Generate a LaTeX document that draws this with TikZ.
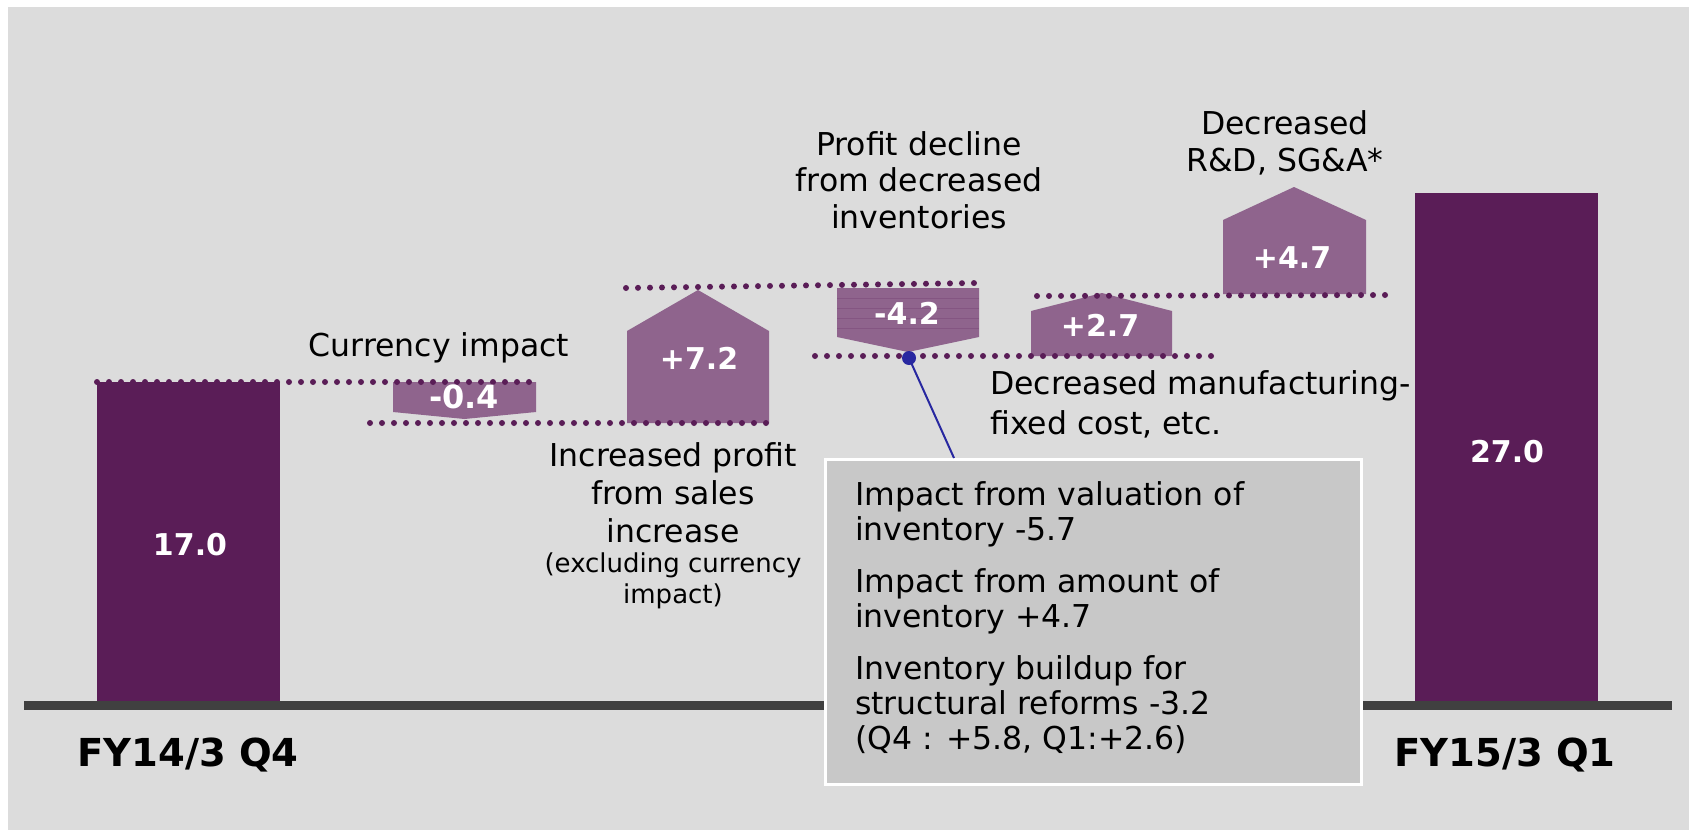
\documentclass[tikz,border=0pt]{standalone}
\usepackage{xcolor}
\usepackage{fontspec}
\setmainfont{DejaVu Sans}
\definecolor{panelgray}{RGB}{220,220,220}
\definecolor{barpurple}{RGB}{90,29,87}
\definecolor{stipple}{RGB}{143,100,141}
\definecolor{stripe}{RGB}{112,58,110}
\definecolor{axisgray}{RGB}{64,64,64}
\definecolor{notegray}{RGB}{200,200,200}
\definecolor{linkblue}{RGB}{40,40,160}
\tikzset{
  dotline/.style={draw=barpurple, line width=6pt, line cap=round, dash pattern=on 0pt off 12pt},
  stepshape/.style={fill=stipple, draw=none},
  lbl/.style={font=\fontsize{31.5}{38}\selectfont, align=center, inner sep=0pt},
  smalllbl/.style={font=\fontsize{26}{31}\selectfont, align=center, inner sep=0pt},
  num/.style={font=\bfseries\fontsize{30}{36}\selectfont, text=white, inner sep=0pt},
  period/.style={font=\bfseries\fontsize{38.5}{44}\selectfont, inner sep=0pt}
}
\begin{document}
\begin{tikzpicture}[x=1pt,y=1pt,yscale=-1,xscale=1]
\useasboundingbox (0,0) rectangle (1689,830);

%Shape: Background
\fill [panelgray] (8,7) rectangle (1689,830);

%Shape: Rectangle [bar FY14/3 Q4]
\fill [barpurple] (97,382) rectangle (280,706);
%Shape: Rectangle [bar FY15/3 Q1]
\fill [barpurple] (1415,193) rectangle (1598,706);

%Down Arrow [currency]
\draw [stepshape] (393,382) -- (536,382) -- (536,412) -- (464.5,419) -- (393,412) -- cycle ;
%Up Arrow [sales]
\draw [stepshape] (627,423) -- (627,331) -- (698,290) -- (769,331) -- (769,423) -- cycle ;
%Down Arrow [inventories]
\draw [stepshape] (837,288) -- (979,288) -- (979,337) -- (908,352) -- (837,337) -- cycle ;
\foreach \yy in {298,308,318,328}
  \draw [stripe, line width=1pt, opacity=0.35] (837,\yy) -- (979,\yy);
%Up Arrow [fixed cost]
\draw [stepshape] (1031,356) -- (1031,311) -- (1102,293) -- (1172,311) -- (1172,356) -- cycle ;
%Up Arrow [R&D]
\draw [stepshape] (1223,294) -- (1223,220) -- (1294,187) -- (1366,220) -- (1366,294) -- cycle ;

%Dotted levels
\draw [dotline] (97,382) -- (533,382) ;
\draw [dotline] (370,423) -- (770,423) ;
\draw [dotline] (626,288) -- (976,283) ;
\draw [dotline] (815,356) -- (1213,356) ;
\draw [dotline] (1037,296) -- (1387,295) ;

%Shape: Axis
\fill [axisgray] (24,701) rectangle (1672,710);

%Shape: Note box
\draw (824,458) node (note) [anchor=north west, fill=notegray, draw=white, line width=2.5pt, minimum width=536, minimum height=325, inner sep=0pt] {};

%Connector
\coordinate (pin) at (909,358);
\coordinate (link) at (954,458);
\draw [linkblue, line width=2pt] (pin) -- (link) ;
\fill [linkblue] (pin) circle (7);

% Text Node
\draw (190,545) node (v17) [num] {17.0};
% Text Node
\draw (1507,452) node (v27) [num] {27.0};
% Text Node
\draw (464,397) node (vcur) [num, font=\bfseries\fontsize{32}{36}\selectfont] {-0.4};
% Text Node
\draw (699,358) node (vsal) [num] {+7.2};
% Text Node
\draw (907,313) node (vinv) [num] {-4.2};
% Text Node
\draw (1100,325) node (vfix) [num] {+2.7};
% Text Node
\draw (1292,258) node (vrnd) [num] {+4.7};

% Text Node
\draw (439,348) node (curr) [lbl] {Currency impact};
% Text Node
\draw (673,493) node (sales) [lbl] {Increased profit\\from sales\\increase};
% Text Node
\draw (673,581) node (excl) [smalllbl] {(excluding currency\\impact)};
% Text Node
\draw (919,180) node (decl) [lbl, font=\fontsize{31.5}{36.5}\selectfont] {Profit decline\\from decreased\\inventories};
% Text Node
\draw (1285,143) node (rnd) [lbl, font=\fontsize{31.5}{37}\selectfont] {Decreased\\R\&D, SG\&A*};
% Text Node
\draw (990,404) node (fix) [lbl, anchor=west, align=left, font=\fontsize{31.5}{40}\selectfont] {Decreased manufacturing-\\fixed cost, etc.};
% Text Node
\draw (855,481) node (notetext) [anchor=north west, align=left, inner sep=0pt, font=\fontsize{31.5}{35}\selectfont] {Impact from valuation of\\inventory -5.7\\[17pt]Impact from amount of\\inventory +4.7\\[17pt]Inventory buildup for\\structural reforms -3.2\\(Q4 : +5.8, Q1:+2.6)};

% Text Node
\draw (188,755) node (fy14) [period] {FY14/3 Q4};
% Text Node
\draw (1505,755) node (fy15) [period] {FY15/3 Q1};

\end{tikzpicture}
\end{document}
